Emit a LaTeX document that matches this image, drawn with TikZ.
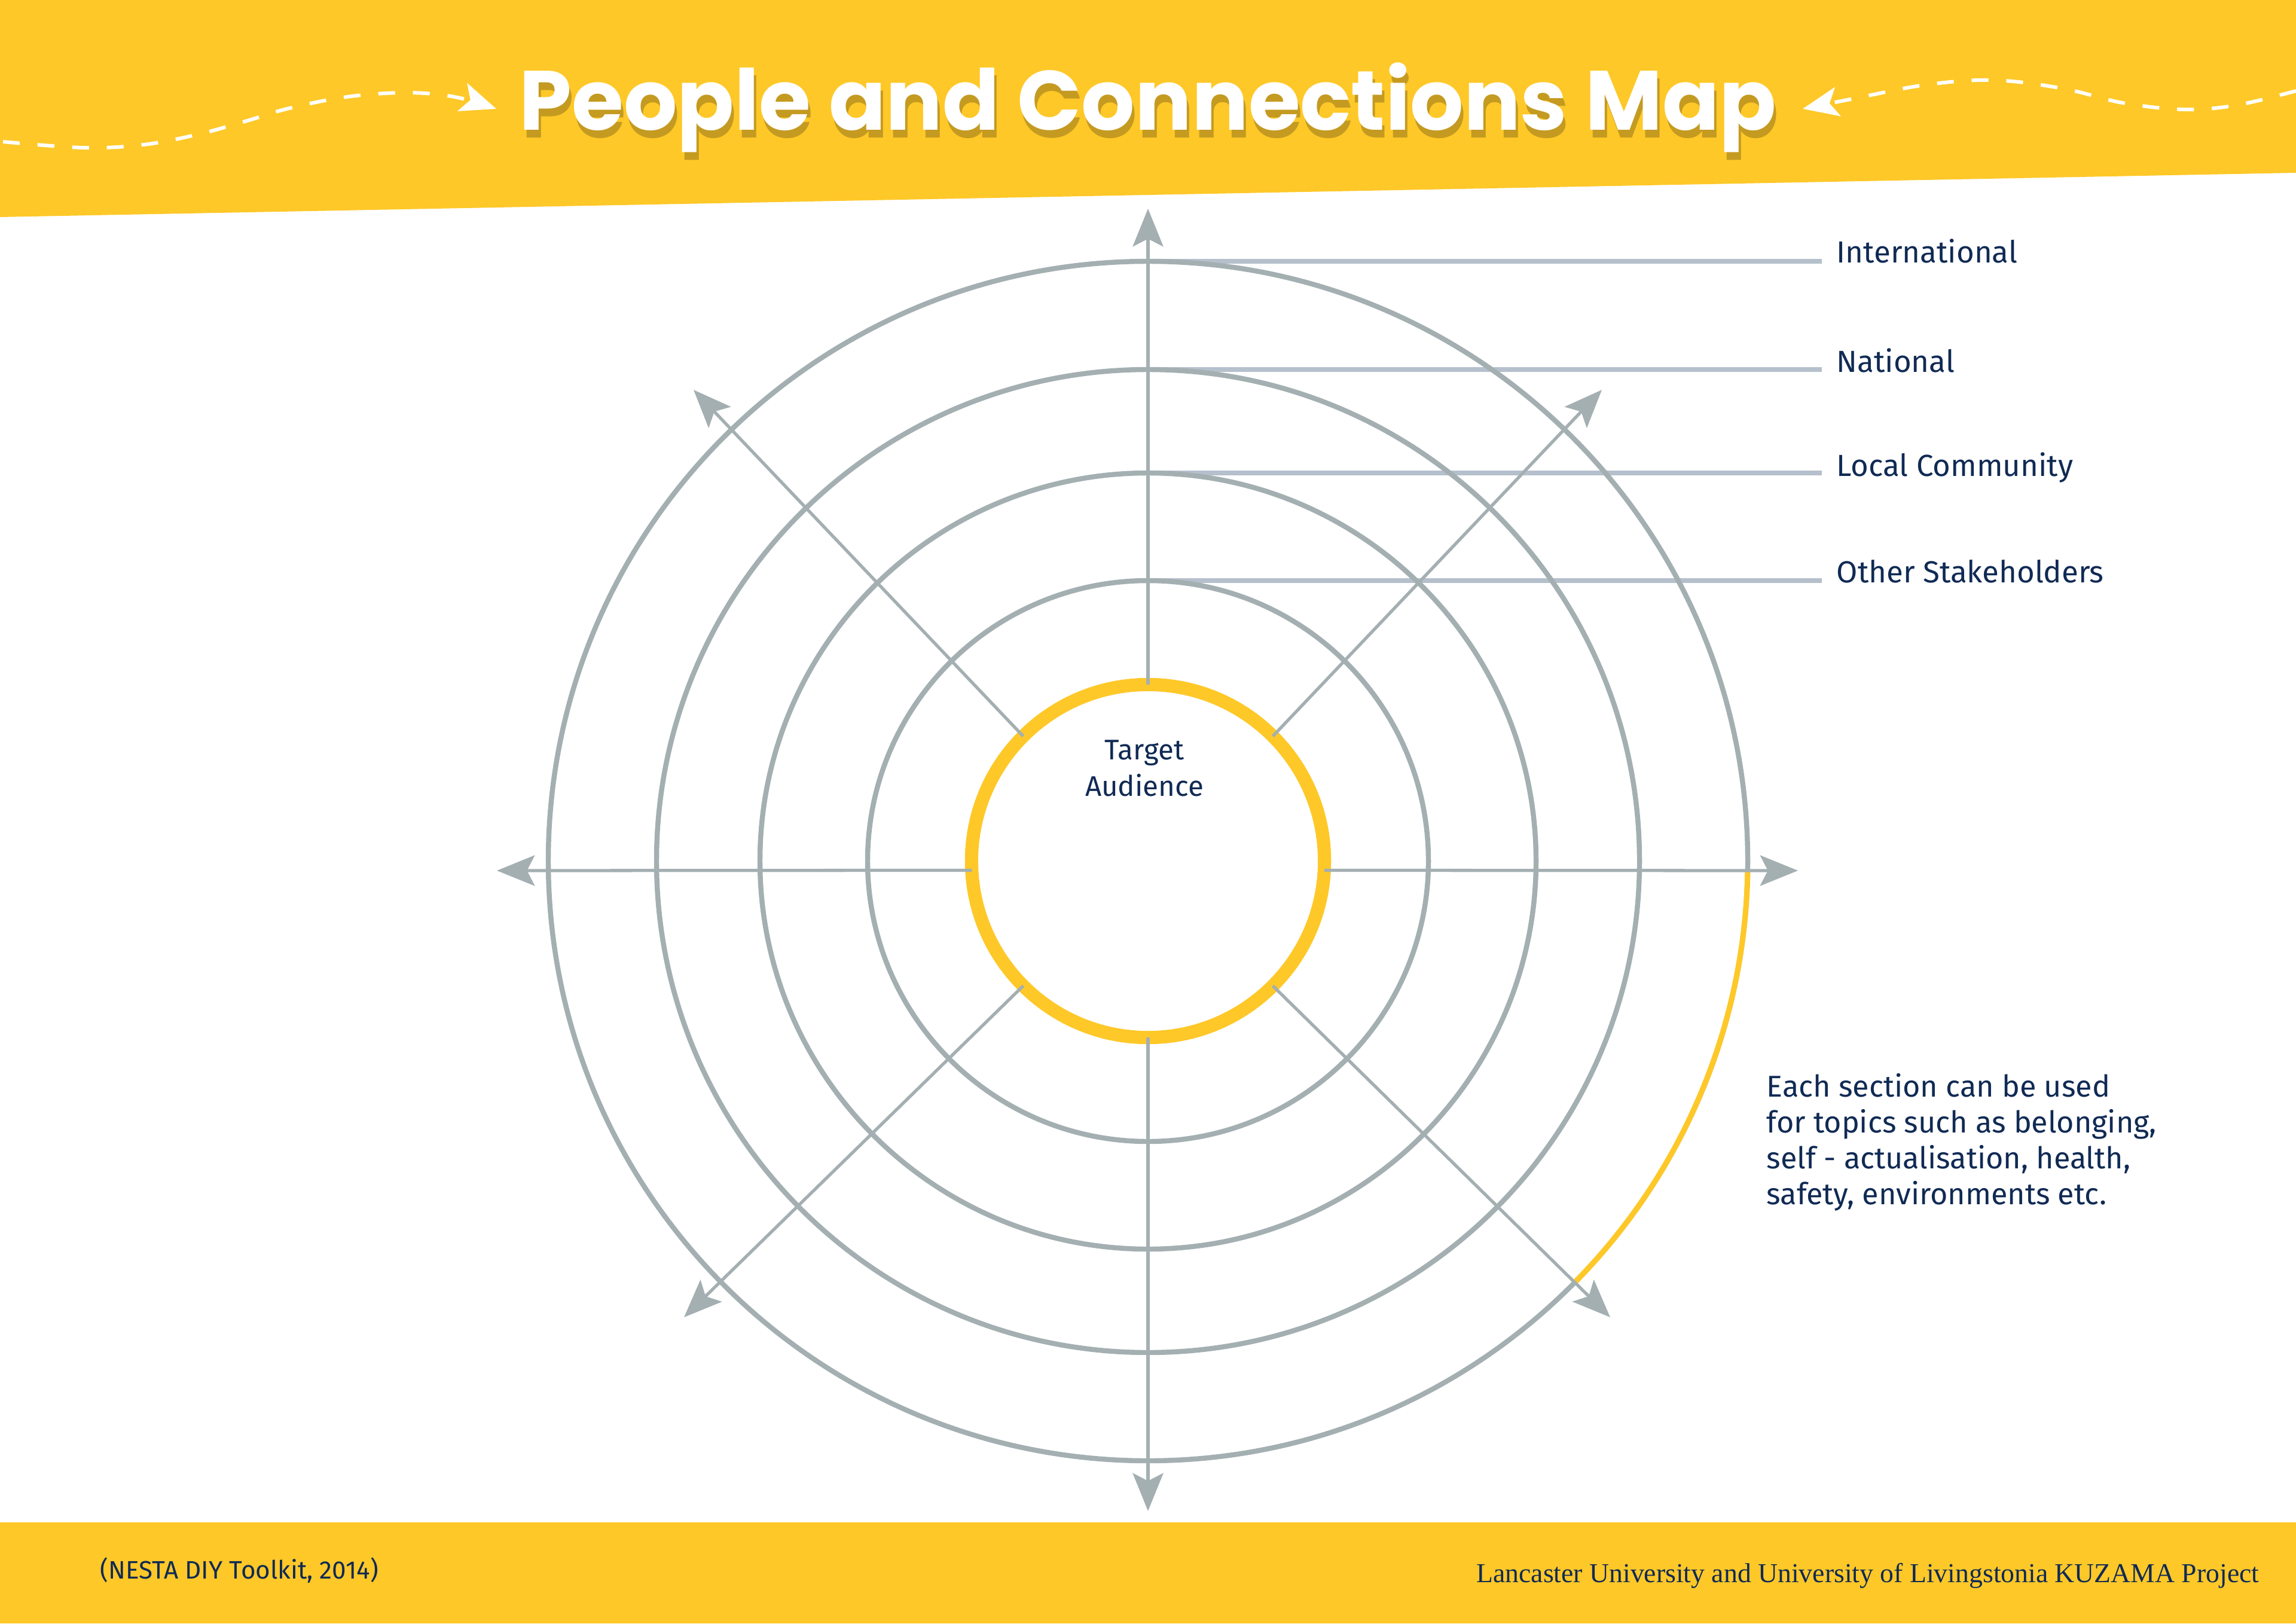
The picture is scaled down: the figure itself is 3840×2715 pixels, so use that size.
\documentclass[tikz,border=0pt]{standalone}
\usepackage{fontspec}
\setmainfont{Fira Sans}
\newfontfamily\titlefont{Poppins}
\newfontfamily\footserif{Liberation Serif}
\usepackage{tikz}
\usetikzlibrary{
  positioning,
  arrows.meta
}
\definecolor{bandyellow}{RGB}{254,200,40}
\definecolor{ringgrey}{RGB}{164,175,178}
\definecolor{levelgrey}{RGB}{181,192,204}
\definecolor{navytext}{RGB}{16,42,84}
\definecolor{shadowbrown}{RGB}{90,70,20}
\tikzset{
  band/.style={fill=bandyellow, draw=none},
  ring/.style={draw=ringgrey, line width=2.4pt},
  levelline/.style={draw=levelgrey, line width=2.3pt},
  axis/.style={
    draw=ringgrey, line width=1.5pt,
    -{Stealth[length=18pt, width=14.5pt, inset=3.7pt]}
  },
  wave/.style={
    draw=white, line width=1.7pt, dash pattern=on 8pt off 8.5pt,
    -{Stealth[length=17pt, width=14pt, inset=4pt, fill=white]}
  },
  levellabel/.style={
    font=\fontsize{14.5}{17}\selectfont, text=navytext,
    inner sep=0pt, anchor=base west
  },
  bodytext/.style={
    font=\fontsize{14.3}{17}\selectfont, text=navytext,
    inner sep=0pt, align=left
  },
  targetring/.style={
    circle, draw=bandyellow, line width=6.3pt,
    minimum size=5.9cm, inner sep=0pt, outer sep=0pt
  },
  titletext/.style={
    font=\titlefont\bfseries\fontsize{40}{46}\selectfont, anchor=base
  }
}

\begin{document}
\begin{tikzpicture}[x=0.01cm, y=-0.01cm]
  \useasboundingbox (0,0) rectangle (3840,2715);

  % header and footer bands
  \fill[band] (0,0) -- (3840,0) -- (3840,289) -- (0,363) -- cycle;
  \fill[band] (0,2546) rectangle (3840,2715);

  % title with shadow
  \node[titletext, text=shadowbrown, opacity=0.35] (shadow) at (1924,230)
    {People and Connections Map};
  \node[titletext, text=white] (title) at (1920,218) {People and Connections Map};

  \draw[wave] plot[smooth, tension=0.6] coordinates {
    (5,237) (140,247) (240,242) (330,225) (410,203) (480,182)
    (580,162) (680,155) (760,162) (830,182)};
  \draw[wave] plot[smooth, tension=0.6] coordinates {
    (3840,152) (3740,176) (3652,183) (3550,172) (3450,148)
    (3333,134) (3220,142) (3100,165) (3015,182)};

  % ring tops
  \coordinate (topI) at (1920,437);
  \coordinate (topN) at (1920,618);
  \coordinate (topL) at (1920,791);
  \coordinate (topO) at (1920,971);

  % level labels
  \node[levellabel] (intl) at (3071,439) {International};
  \node[levellabel] (natl) at (3071,622) {National};
  \node[levellabel] (local) at (3071,796) {Local Community};
  \node[levellabel] (other) at (3071,974) {Other Stakeholders};

  \draw[levelline] (topI) -- ([xshift=-6.8pt]intl.base west |- topI);
  \draw[levelline] (topN) -- ([xshift=-6.8pt]natl.base west |- topN);
  \draw[levelline] (topL) -- ([xshift=-6.8pt]local.base west |- topL);
  \draw[levelline] (topO) -- ([xshift=-6.8pt]other.base west |- topO);

  % rings
  \draw[ring] (1920,1440) circle[radius=1003];
  \draw[ring] (1920,1440) circle[radius=822];
  \draw[ring] (1920,1440) circle[radius=649];
  \draw[ring] (1920,1440) circle[radius=469];
  \draw[draw=bandyellow, line width=2.6pt]
    (1920,1440) ++(1:1003) arc[start angle=1, end angle=44.7, radius=1003];

  % centre
  \node[targetring] (target) at (1920,1440) {};
  \node[bodytext, align=center, anchor=north, font=\fontsize{13.5}{17.5}\selectfont]
    (audience) at (1914,1237) {Target\\Audience};

  % arrow tips
  \coordinate (tipN) at (1920,349);
  \coordinate (tipS) at (1920,2527);
  \coordinate (tipW) at (831,1456);
  \coordinate (tipE) at (3007,1456);
  \coordinate (tipNW) at (1160,652);
  \coordinate (tipNE) at (2679,652);
  \coordinate (tipSW) at (1144,2203);
  \coordinate (tipSE) at (2693,2203);

  \draw[axis] (target.north) -- (tipN);
  \draw[axis] (target.south) -- (tipS);
  \draw[axis] (target.183) -- (tipW);
  \draw[axis] (target.-3) -- (tipE);
  \draw[axis] (target.135) -- (tipNW);
  \draw[axis] (target.45) -- (tipNE);
  \draw[axis] (target.225) -- (tipSW);
  \draw[axis] (target.-45) -- (tipSE);

  % note
  \node[bodytext, anchor=north west] (note) at (2954,1795)
    {Each section can be used\\
     for topics such as belonging,\\
     self - actualisation, health,\\
     safety, environments etc.};

  % footer
  \node[font=\fontsize{12}{14}\selectfont, text=navytext, inner sep=0pt,
        anchor=base west] (source) at (167,2640) {(NESTA DIY Toolkit, 2014)};
  \node[font=\footserif\fontsize{13}{15}\selectfont, text=navytext, inner sep=0pt,
        anchor=base east] (credit) at (3779,2646)
    {Lancaster University and University of Livingstonia KUZAMA Project};
\end{tikzpicture}
\end{document}
